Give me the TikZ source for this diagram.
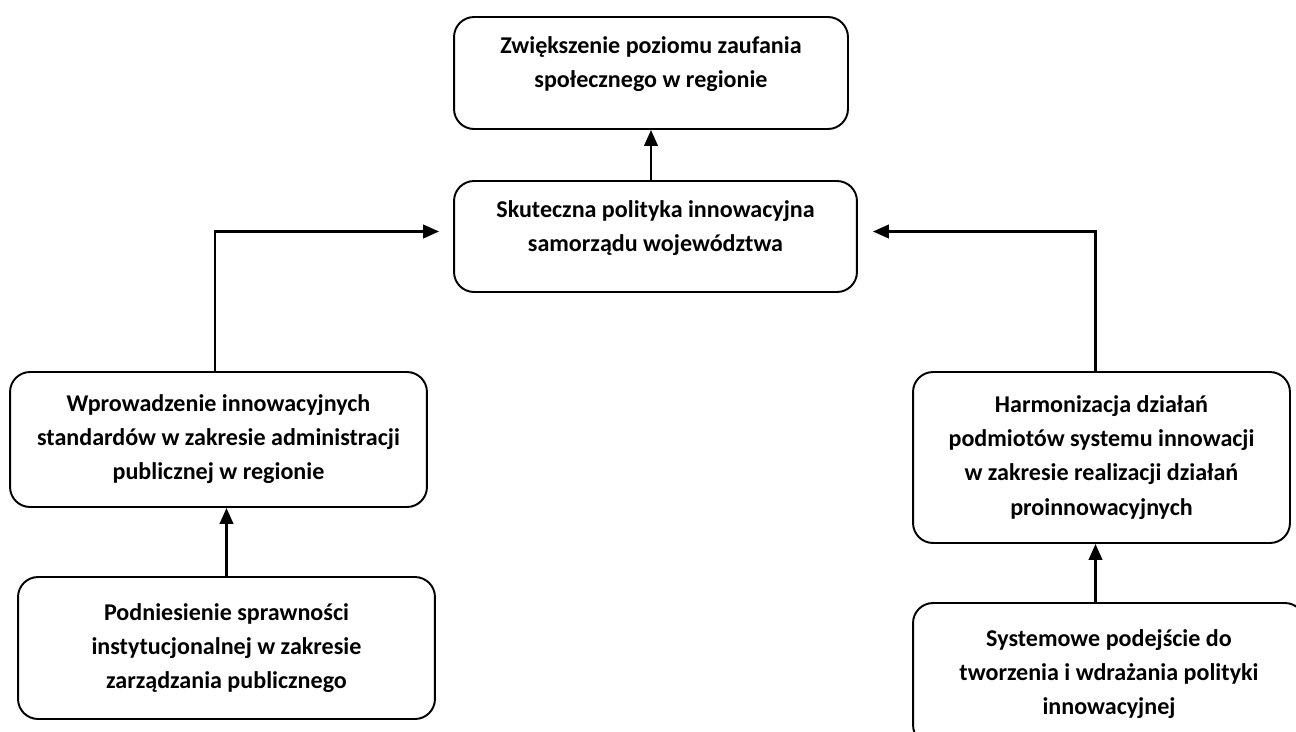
\documentclass[tikz,border=0pt]{standalone}
\usepackage{fontspec}
\setmainfont{Carlito}
\usepackage{tikz}
\usetikzlibrary{arrows.meta}
\usetikzlibrary{positioning}

\tikzset{
  goal/.style={draw, rounded corners=0.4cm, line width=1.1pt, align=center,
    font=\fontsize{13.7}{19.4}\selectfont\bfseries, inner sep=0pt},
  lifted/.style={text depth=0.43cm},
  link/.style={line width=1.4pt, -{Triangle[length=0.32cm,width=0.27cm]}}
}

\begin{document}
\begin{tikzpicture}[x=0.02cm, y=-0.02cm]
    \clip (0,0) rectangle (1296,731);
    \useasboundingbox (0,0) rectangle (1296,731);

    \node[goal, lifted, minimum width=7.88cm, minimum height=2.24cm] (zaufanie) at (651,73)
      {Zwiększenie poziomu zaufania\\społecznego w regionie};
    \node[goal, lifted, minimum width=8.06cm, minimum height=2.22cm] (polityka) at (655.5,236.5)
      {Skuteczna polityka innowacyjna\\samorządu województwa};
    \node[goal, minimum width=8.34cm, minimum height=2.7cm] (standardy) at (218.5,439.5)
      {Wprowadzenie innowacyjnych\\standardów w zakresie administracji\\publicznej w regionie};
    \node[goal, minimum width=8.34cm, minimum height=2.84cm] (sprawnosc) at (226.5,648)
      {Podniesienie sprawności\\instytucjonalnej w zakresie\\zarządzania publicznego};
    \node[goal, minimum width=7.54cm, minimum height=3.42cm] (harmonizacja) at (1101.5,457.5)
      {Harmonizacja działań\\podmiotów systemu innowacji\\w zakresie realizacji działań\\proinnowacyjnych};
    \node[goal, minimum width=7.84cm, minimum height=2.84cm] (systemowe) at (1109,674)
      {Systemowe podejście do\\tworzenia i wdrażania polityki\\innowacyjnej};

    \draw[link] (zaufanie.south |- polityka.north) -- (zaufanie.south);
    \draw[link, shorten >=0.28cm] ([xshift=-0.07cm]standardy.north) |- ([yshift=0.1cm]polityka.west);
    \draw[link, shorten >=0.3cm] ([xshift=-0.12cm]harmonizacja.north) |- ([yshift=0.1cm]polityka.east);
    \draw[link] (sprawnosc.north) -- (sprawnosc.north |- standardy.south);
    \draw[link] ([xshift=-0.12cm]harmonizacja.south |- systemowe.north) -- ([xshift=-0.12cm]harmonizacja.south);
  \end{tikzpicture}
\end{document}
